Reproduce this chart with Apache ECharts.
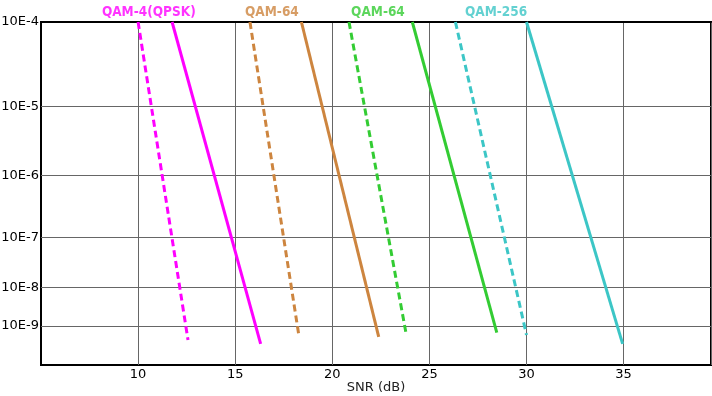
<!DOCTYPE html>
<html><head><meta charset="utf-8">
<script src="https://cdn.jsdelivr.net/npm/echarts@6/dist/echarts.min.js"></script>
<style>html,body{margin:0;padding:0;background:#fff}#c{width:712px;height:396px}</style>
</head><body><div id="c"></div>
<script>
// Y axis: BER exponents (10E-n) and their position on the (non-uniform) axis scale
const yTickExp = [4, 5, 6, 7, 8, 9, 10];
const yTickLabels = ['10E-4', '10E-5', '10E-6', '10E-7', '10E-8', '10E-9', ''];
const yTickScale = [0, 84.3, 153.3, 215.3, 265.7, 304, 343];
const xTicks = [10, 15, 20, 25, 30, 35];

// Curves: [SNR dB, BER exponent]
const qpskDashed  = [[10.0, 4], [12.57, 9.36]];
const qpskSolid   = [[11.75, 4], [16.31, 9.46]];
const qam64aDashed= [[15.76, 4], [18.29, 9.28]];
const qam64aSolid = [[18.41, 4], [22.39, 9.28]];
const qam64bDashed= [[20.86, 4], [23.79, 9.17]];
const qam64bSolid = [[24.12, 4], [28.47, 9.17]];
const qam256Dashed= [[26.34, 4], [30.0, 9.23]];
const qam256Solid = [[30.0, 4], [34.95, 9.46]];

const curveNames = ['QAM-4(QPSK)', 'QAM-64', 'QAM-64', 'QAM-256'];
const curveLabelSnr = [10.55, 16.89, 22.35, 28.43];
const colors = ['#ff00ff', '#cd853f', '#33cc33', '#3cc6c6'];

function expToScale(e) {
  for (let i = 0; i < yTickExp.length - 1; i++) {
    if (e <= yTickExp[i + 1] || i === yTickExp.length - 2) {
      const t = (e - yTickExp[i]) / (yTickExp[i + 1] - yTickExp[i]);
      return yTickScale[i] + t * (yTickScale[i + 1] - yTickScale[i]);
    }
  }
}
const conv = arr => arr.map(p => [p[0], expToScale(p[1])]);

const pairs = [
  [qpskDashed, qpskSolid], [qam64aDashed, qam64aSolid],
  [qam64bDashed, qam64bSolid], [qam256Dashed, qam256Solid]
];
const series = [];
pairs.forEach((pr, i) => {
  series.push({ type: 'line', data: conv(pr[0]), symbol: 'none', z: 5,
    lineStyle: { color: colors[i], width: 3, type: [7, 4] } });
  series.push({ type: 'line', data: conv(pr[1]), symbol: 'none', z: 5,
    lineStyle: { color: colors[i], width: 3, type: 'solid' } });
  series.push({ type: 'scatter', data: [[curveLabelSnr[i], expToScale(4)]], symbolSize: 0, silent: true, z: 6,
    label: { show: true, position: 'top', distance: 3, formatter: curveNames[i], color: colors[i],
      fontFamily: 'DejaVu Sans Condensed, DejaVu Sans', fontWeight: 'bold', fontSize: 13.5 } });
});
// horizontal grid lines at the labelled BER levels
series.push({ type: 'line', data: [], silent: true,
  markLine: { silent: true, symbol: 'none', label: { show: false },
    lineStyle: { color: '#666', width: 1, type: 'solid' },
    data: yTickScale.slice(1, 6).map(v => ({ yAxis: v })) } });

const chart = echarts.init(document.getElementById('c'));
chart.setOption({
  animation: false,
  grid: { left: 41, right: 1, top: 22, bottom: 31, show: true, borderColor: '#000', borderWidth: 2,
    containLabel: false, outerBoundsMode: 'none' },
  xAxis: {
    type: 'value', min: 5, max: 39.5, interval: 5,
    name: 'SNR (dB)', nameLocation: 'middle', nameGap: 16, nameMoveOverlap: false,
    nameTextStyle: { fontFamily: 'DejaVu Sans', fontSize: 13, color: '#222' },
    axisLine: { show: true, lineStyle: { color: '#000', width: 2 } },
    axisTick: { show: false },
    axisLabel: { showMinLabel: false, showMaxLabel: false, margin: 3, fontFamily: 'DejaVu Sans', fontSize: 13, color: '#000',
      formatter: v => xTicks.includes(v) ? String(v) : '' },
    splitLine: { show: true, lineStyle: { color: '#666', width: 1 } }
  },
  yAxis: {
    type: 'value', inverse: true, min: 0, max: 343,
    axisLine: { show: true, lineStyle: { color: '#000', width: 2 } },
    axisTick: { show: false },
    splitLine: { show: false },
    axisLabel: { customValues: yTickScale.slice(0, 6), margin: 2, fontFamily: 'DejaVu Sans', fontSize: 13, color: '#000',
      formatter: v => { const i = yTickScale.indexOf(v); return i >= 0 ? yTickLabels[i] : ''; } }
  },
  series: series
});
</script></body></html>
